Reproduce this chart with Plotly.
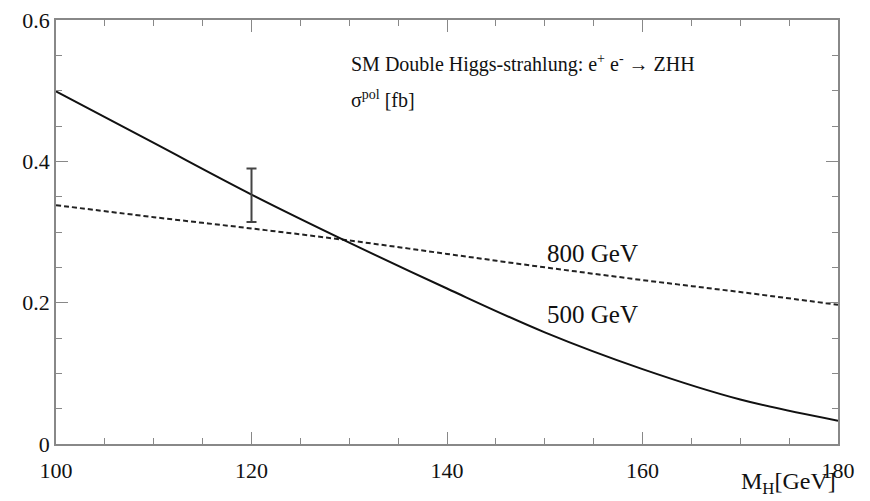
import plotly.graph_objects as go

# Higgs mass grid [GeV]
m_h = [100, 110, 120, 130, 140, 150, 160, 170, 180]
# sigma^pol [fb] at sqrt(s) = 500 GeV (solid)
sigma_500 = [0.499, 0.426, 0.353, 0.285, 0.220, 0.158, 0.106, 0.063, 0.033]
# sigma^pol [fb] at sqrt(s) = 800 GeV (dashed)
sigma_800 = [0.338, 0.321, 0.305, 0.288, 0.269, 0.250, 0.232, 0.215, 0.197]
# measurement error bar at M_H = 120 GeV
err_x = [120]
err_y = [0.352]
err_up = [0.038]
err_down = [0.038]

x_ticks = [100, 120, 140, 160, 180]
y_ticks = [0, 0.2, 0.4, 0.6]
y_tick_text = ["0", "0.2", "0.4", "0.6"]

SERIF = "Liberation Serif"

fig = go.Figure()
fig.add_trace(go.Scatter(x=m_h, y=sigma_800, mode="lines",
                         line=dict(color="#222", width=2, dash="5px,3px", shape="spline"),
                         showlegend=False))
fig.add_trace(go.Scatter(x=m_h, y=sigma_500, mode="lines",
                         line=dict(color="#111", width=2, shape="spline"),
                         showlegend=False))
fig.add_trace(go.Scatter(x=err_x, y=err_y, mode="markers",
                         marker=dict(size=1, color="rgba(0,0,0,0)"),
                         error_y=dict(type="data", array=err_up, arrayminus=err_down,
                                      color="#444", thickness=2, width=5),
                         showlegend=False))

axis_common = dict(showgrid=False, zeroline=False, showline=True, linecolor="#888",
                   linewidth=1.5, mirror="ticks", ticks="inside", tickcolor="#888",
                   tickwidth=1, automargin=False, ticklabeloverflow="allow",
                   tickfont=dict(family=SERIF, size=22, color="#111"))

fig.update_xaxes(range=[100, 180], tickvals=x_ticks, ticklen=12, ticklabelstandoff=6,
                 minor=dict(dtick=5, ticks="inside", ticklen=6, tickcolor="#888"),
                 **axis_common)
fig.update_yaxes(range=[0, 0.6], tickvals=y_ticks, ticktext=y_tick_text, ticklen=12,
                 minor=dict(dtick=0.05, ticks="inside", ticklen=6, tickcolor="#888"),
                 **axis_common)

fig.add_annotation(x=0.375, y=0.898, xref="paper", yref="paper", xanchor="left",
                   yanchor="middle", showarrow=False,
                   text="SM Double Higgs-strahlung: e<sup>+</sup> e<sup>-</sup> \u2192 ZHH",
                   font=dict(family=SERIF, size=20, color="#111"))
fig.add_annotation(x=0.375, y=0.814, xref="paper", yref="paper", xanchor="left",
                   yanchor="middle", showarrow=False,
                   text="\u03c3<sup>pol</sup> [fb]",
                   font=dict(family=SERIF, size=20, color="#111"))
fig.add_annotation(x=150, y=0.270, xanchor="left", yanchor="middle", showarrow=False,
                   text="800 GeV", font=dict(family=SERIF, size=25, color="#111"))
fig.add_annotation(x=150, y=0.183, xanchor="left", yanchor="middle", showarrow=False,
                   text="500 GeV", font=dict(family=SERIF, size=25, color="#111"))
fig.add_annotation(x=1.0, y=-0.092, xref="paper", yref="paper", xanchor="right",
                   yanchor="middle", showarrow=False,
                   text="M<sub>H</sub>[GeV]", font=dict(family=SERIF, size=24, color="#111"))

# the page body has an 8px default margin, so the figure is shrunk by 8px
fig.update_layout(width=862, height=493, margin=dict(l=48, r=32, t=12, b=57),
                  plot_bgcolor="white", paper_bgcolor="white")

fig.write_html("out.html")
